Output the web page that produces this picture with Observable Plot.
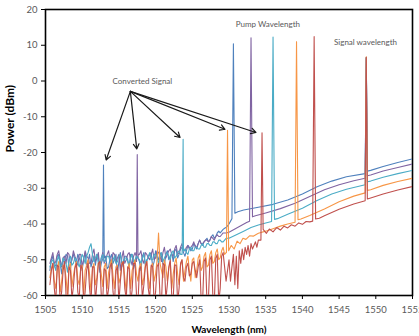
<!DOCTYPE html>
<html>
<head>
<meta charset="utf-8">
<script src="https://cdn.jsdelivr.net/npm/d3@7"></script>
<script src="https://cdn.jsdelivr.net/npm/@observablehq/plot@0.6"></script>
<style>
  html, body { margin: 0; padding: 0; background: #fff; }
</style>
</head>
<body>
<div id="chart"></div>
<script>
// Optical spectra of five wavelength-conversion runs, one per pump wavelength.
const pumpKeys = ["1530.6", "1533.0", "1536.0", "1539.2", "1541.6"];
const traceColors = ["#4F81BD", "#8064A2", "#4BACC6", "#F79646", "#C0504D"];

const xTicks = [1505, 1510, 1515, 1520, 1525, 1530, 1535, 1540, 1545, 1550, 1555];
const yTicks = [-60, -50, -40, -30, -20, -10, 0, 10, 20];

// OSA samples across the noisy short-wavelength band (nm)
const noiseNm = [
  1505.6, 1506.0, 1506.4, 1506.8, 1507.2, 1507.6, 1508.0, 1508.4, 1508.8, 1509.2,
  1509.6, 1510.0, 1510.4, 1510.8, 1511.2, 1511.6, 1512.0, 1512.4, 1512.8, 1513.2,
  1513.6, 1514.0, 1514.4, 1514.8, 1515.2, 1515.6, 1516.0, 1516.4, 1516.8, 1517.2,
  1517.6, 1518.0, 1518.4, 1518.8, 1519.2, 1519.6, 1520.0, 1520.4, 1520.8, 1521.2,
  1521.6, 1522.0, 1522.4, 1522.8, 1523.2, 1523.6, 1524.0, 1524.4, 1524.8, 1525.2,
  1525.6, 1526.0, 1526.4, 1526.8, 1527.2, 1527.6, 1528.0, 1528.4, 1528.8, 1529.2,
  1529.6
];
// interleaved samples between the ones above
const noiseNmMid = [
  1505.8, 1506.2, 1506.6, 1507.0, 1507.4, 1507.8, 1508.2, 1508.6, 1509.0, 1509.4,
  1509.8, 1510.2, 1510.6, 1511.0, 1511.4, 1511.8, 1512.2, 1512.6, 1513.0, 1513.4,
  1513.8, 1514.2, 1514.6, 1515.0, 1515.4, 1515.8, 1516.2, 1516.6, 1517.0, 1517.4,
  1517.8, 1518.2, 1518.6, 1519.0, 1519.4, 1519.8, 1520.2, 1520.6, 1521.0, 1521.4,
  1521.8, 1522.2, 1522.6, 1523.0, 1523.4, 1523.8, 1524.2, 1524.6, 1525.0, 1525.4,
  1525.8, 1526.2, 1526.6, 1527.0, 1527.4, 1527.8, 1528.2, 1528.6, 1529.0, 1529.4
];

// Noise-band power (dBm) for each trace
const noise1530 = [
  -53, -49, -51.5, -48.5, -54, -50, -49, -52.5, -48.5, -51,
  -49.5, -53, -48, -50.5, -52, -49, -48.5, -53.5, -50, -49,
  -52, -48.5, -50, -54, -48, -50.5, -49, -52, -48.5, -51,
  -49.5, -53, -48, -50, -48.5, -52, -47.5, -50, -49, -51.5,
  -47.5, -49, -50.5, -47, -48.5, -46.5, -49, -46, -47.5, -45.5,
  -47, -44.5, -46, -44.5, -45, -43.5, -44, -42.5, -42.5, -41.5,
  -41
];
const noise1530Mid = [
  -50, -52, -49, -51, -50.5, -48.5, -52, -49.5, -50, -48.5,
  -51, -49.5, -52, -48.5, -50.5, -51.5, -49, -51, -48.5, -52.5,
  -49.5, -51, -48.5, -50.5, -52, -49, -50, -48.5, -52.5, -49,
  -50.5, -49, -51.5, -49.5, -48, -50.5, -49, -48, -51, -48.5,
  -50, -48, -47.5, -49.5, -47, -48, -47.5, -46.5, -47, -46,
  -45.5, -45.5, -45, -44, -44.5, -43, -43.5, -42, -42, -41.2
];
const noise1533 = [
  -51, -48, -50.5, -47.5, -52, -49, -48, -51.5, -47.5, -50,
  -48.5, -52, -47.5, -49.5, -51, -47, -49.5, -52.5, -48, -50,
  -47.5, -51, -48.5, -49.5, -53, -47.5, -50, -48, -51.5, -48,
  -49.5, -47.5, -51, -48.5, -50, -47, -49.5, -48, -50.5, -46.5,
  -48.5, -47, -49, -46, -48, -45.5, -47.5, -46, -46.5, -45,
  -46.5, -44.5, -45.5, -44.5, -45, -43.5, -44.5, -43, -43.5, -42.5,
  -42.5
];
const noise1533Mid = [
  -49.5, -51, -48.5, -50, -49.5, -51, -48.5, -50, -49, -51.5,
  -48.5, -50, -49, -51, -48.5, -50.5, -48, -49.5, -51, -48.5,
  -50, -48, -50.5, -48.5, -49.5, -51, -48.5, -50, -49, -50.5,
  -48.5, -50, -48, -49.5, -48.5, -50, -47.5, -49, -48, -49.5,
  -47.5, -48.5, -47, -48.5, -46.5, -47.5, -46.5, -47, -46, -46.5,
  -45.5, -45.5, -45, -44.5, -44.5, -44, -43.5, -43.5, -43, -42.5
];
const noise1536 = [
  -52, -50, -53, -49, -51.5, -50.5, -53.5, -49, -51, -50,
  -52, -48.5, -51, -48, -45.5, -50.5, -48.5, -52, -48.5, -50,
  -49, -52.5, -49, -50.5, -48.5, -51, -49.5, -52, -48.5, -50,
  -49.5, -51, -48.5, -50.5, -48, -50, -48.5, -51, -48, -49.5,
  -48, -50, -47.5, -49, -47.5, -48.5, -47, -48.5, -46.5, -47.5,
  -46.5, -47, -45.5, -46.5, -45.5, -46, -45, -45.5, -44.5, -45,
  -44
];
const noise1536Mid = [
  -50.5, -51.5, -50, -52, -49.5, -51, -50, -51.5, -49.5, -51,
  -50, -49.5, -49, -46.5, -48.5, -49.5, -51, -49.5, -50.5, -49,
  -50.5, -50, -51, -49, -50.5, -49.5, -50.5, -49.5, -50.5, -49,
  -50, -49.5, -51, -49, -50, -48.5, -49.5, -49, -50.5, -48.5,
  -49, -48, -49.5, -48, -48.5, -47.5, -48, -47, -47.5, -46.5,
  -47, -46, -46.5, -45.5, -46, -45, -45.5, -44.5, -45, -44.5
];
const noise1539 = [
  -55, -51, -58, -50.5, -56, -52, -60, -51, -54.5, -50.5,
  -57, -51.5, -53, -50, -59, -51, -55, -50.5, -57.5, -51,
  -53.5, -50, -58, -51.5, -55, -50.5, -59, -51, -53, -50,
  -56, -51, -55, -50.5, -58, -51, -54, -42.5, -53, -50,
  -56, -50.5, -54, -49.5, -57, -50, -53, -49, -56, -49.5,
  -53, -48.5, -52, -48, -51.5, -47.5, -50.5, -47, -49.5, -46.5,
  -48
];
const noise1539Mid = [
  -52.5, -56, -53, -59, -51.5, -55, -52, -57.5, -52, -55.5,
  -52.5, -60, -51.5, -54, -52.5, -57, -51, -54, -52, -58,
  -51.5, -54.5, -52, -56.5, -51, -55, -52.5, -58, -51.5, -54,
  -52, -57, -51.5, -55, -52, -56, -50, -51, -55, -52,
  -52.5, -58, -51, -54, -51.5, -56, -50.5, -53, -50, -55,
  -49.5, -53, -49, -52, -48.5, -51, -48, -50, -47.5, -48.5
];
const noise1541 = [
  -57, -51, -62, -52, -59, -50.5, -62, -53, -57.5, -51,
  -61, -52.5, -59, -51, -62, -52, -56.5, -50.5, -61, -53,
  -58, -51, -62, -52, -56, -50.5, -61, -52.5, -58.5, -51,
  -62, -52, -57, -50.5, -61, -52, -59, -51, -62, -51.5,
  -57, -50, -61, -51.5, -58, -50, -56, -51, -54, -50.5,
  -55, -50, -62, -49.5, -61, -49, -62, -48.5, -58, -48,
  -56
];
const noise1541Mid = [
  -53, -58, -51.5, -62, -53, -60, -52, -61, -52.5, -59,
  -51.5, -62, -53, -58, -52, -62, -51, -60, -52.5, -61,
  -52, -59, -53, -62, -51.5, -58, -52, -62, -51, -60,
  -52.5, -61, -52, -58, -51.5, -62, -52, -60, -51, -61,
  -52, -60, -51.5, -62, -51, -55, -52, -54.5, -51, -53,
  -52, -61, -50.5, -62, -50, -60, -49.5, -62, -49, -52
];

// Converted-signal, pump and signal peaks plus the ASE floor beyond the noise band: [nm, dBm]
const trace1530 = [
  [1512.75, -50], [1512.9, -23.5], [1513.05, -49.5],
  [1530.0, -40], [1530.4, -38.5], [1530.6, 10.4], [1530.8, -37], [1531.2, -36.6],
  [1532, -36.1], [1534, -35.3], [1536, -34.5], [1538, -33.3], [1540, -31.6],
  [1542, -29.6], [1544, -28.0], [1546, -26.8], [1548.55, -25.9], [1548.7, 6.4],
  [1548.85, -25.2], [1549.3, -25.0], [1551, -23.9], [1553, -22.8], [1555, -21.8]
];
const trace1533 = [
  [1517.35, -49], [1517.5, -20.6], [1517.65, -48.5],
  [1530.0, -42.3], [1530.8, -41.4], [1531.6, -40.5], [1532.4, -39.6], [1532.8, -39.2],
  [1533.0, 12.1], [1533.2, -38], [1533.6, -37.7], [1535, -36.9], [1537, -35.7],
  [1539, -34.2], [1541, -32.3], [1543, -30.4], [1545, -29.0], [1547, -27.9],
  [1548.55, -27.2], [1548.7, 6.5], [1548.85, -26.5], [1549.3, -26.3], [1551, -25.2],
  [1553, -24.2], [1555, -23.2]
];
const trace1536 = [
  [1523.62, -48], [1523.75, -16.3], [1523.9, -47.5],
  [1530.0, -44], [1531, -43], [1532, -42], [1533, -41], [1534, -40.3], [1535, -39.7],
  [1535.8, -39.3], [1536.0, 12.3], [1536.2, -38.7], [1536.6, -38.5], [1538, -37.3],
  [1540, -35.6], [1542, -33.4], [1544, -31.6], [1546, -30.3], [1548.55, -29.0],
  [1548.7, 6.6], [1548.85, -28.2], [1549.3, -28.0], [1551, -26.9], [1553, -25.9],
  [1555, -25.0]
];
const trace1539 = [
  [1529.65, -48], [1529.8, -13.8], [1529.95, -47.5], [1530.3, -46], [1530.7, -47],
  [1531.1, -44.8], [1531.5, -45.5], [1531.9, -44], [1532.3, -44.3], [1532.8, -43.3],
  [1533.3, -43.4], [1534, -42.6], [1535, -42], [1536, -41.3], [1537, -40.6],
  [1538, -40], [1539.0, -39.5], [1539.2, 11.0], [1539.4, -38.8], [1539.8, -38.6],
  [1541, -37.6], [1543, -35.8], [1545, -33.8], [1547, -32.2], [1548.55, -31.3],
  [1548.7, 6.8], [1548.85, -30.6], [1549.3, -30.4], [1551, -29.2], [1553, -28.1],
  [1555, -27.2]
];
const trace1541 = [
  [1530.0, -50], [1530.2, -56], [1530.4, -52], [1530.6, -48.5], [1530.8, -57],
  [1531.0, -49], [1531.2, -58], [1531.4, -47.5], [1531.6, -51], [1531.8, -47],
  [1532.0, -50], [1532.2, -46.5], [1532.4, -48.5], [1532.6, -46], [1532.8, -49],
  [1533.0, -45.5], [1533.2, -47], [1533.6, -45], [1533.8, -46.5], [1534.0, -44.5],
  [1534.35, -44.5], [1534.5, -14.5], [1534.65, -41.5], [1535.1, -42.6], [1535.5, -41.4],
  [1536, -42.2], [1536.5, -41], [1537, -41.7], [1537.5, -40.6], [1538, -41.1],
  [1538.5, -40.2], [1539, -40.6], [1539.5, -39.7], [1540, -40.1], [1540.5, -39.3],
  [1541.0, -39.4], [1541.4, -39.2], [1541.6, 12.4], [1541.8, -38.6], [1542.3, -38.4],
  [1543, -37.7], [1545, -35.9], [1547, -34.4], [1548.55, -33.5], [1548.7, 6.6],
  [1548.85, -33], [1549.3, -32.7], [1551, -31.6], [1553, -30.5], [1555, -29.5]
];

// Annotations
const arrowFrom = [1516.56, -2.9];
const arrowTo = [[1513.26, -22.1], [1517.43, -19.0], [1523.33, -15.8], [1529.45, -13.5], [1533.67, -14.4]];
const notes = [
  {nm: 1518.2, dBm: 0.0, text: "Converted Signal"},
  {nm: 1535.3, dBm: 15.8, text: "Pump Wavelength"},
  {nm: 1548.6, dBm: 10.8, text: "Signal wavelength"}
];

const noiseSets = [noise1530, noise1533, noise1536, noise1539, noise1541];
const noiseMidSets = [noise1530Mid, noise1533Mid, noise1536Mid, noise1539Mid, noise1541Mid];
const traceSets = [trace1530, trace1533, trace1536, trace1539, trace1541];

const rows = [];
pumpKeys.forEach((key, k) => {
  const pts = noiseSets[k].map((v, i) => ({pump: key, nm: noiseNm[i], dBm: v}))
    .concat(noiseMidSets[k].map((v, i) => ({pump: key, nm: noiseNmMid[i], dBm: v})))
    .concat(traceSets[k].map(([nm, dBm]) => ({pump: key, nm, dBm})));
  pts.sort((a, b) => a.nm - b.nm);
  rows.push(...pts);
});

const chart = Plot.plot({
  width: 419,
  height: 336,
  marginLeft: 45,
  marginRight: 7,
  marginTop: 9,
  marginBottom: 41,
  style: {fontFamily: "Lato, 'Open Sans', sans-serif", fontSize: "9.5px", background: "#fff"},
  x: {domain: [1505, 1555]},
  y: {domain: [-60, 20]},
  color: {domain: pumpKeys, range: traceColors},
  marks: [
    Plot.frame({stroke: "#000", strokeWidth: 1.6}),
    Plot.line(rows, {x: "nm", y: "dBm", z: "pump", stroke: "pump", strokeWidth: 1.1, clip: true}),
    Plot.axisX(xTicks, {tickSize: 4, tickPadding: 7, tickFormat: d => String(d), stroke: "#000", fill: "#595959", label: null}),
    Plot.axisY(yTicks, {tickSize: 4, tickPadding: 4, tickFormat: d => String(d), stroke: "#000", fill: "#595959", label: null}),
    Plot.arrow(arrowTo, {x1: () => arrowFrom[0], y1: () => arrowFrom[1], x2: d => d[0], y2: d => d[1],
      stroke: "#1a1a1a", strokeWidth: 1.2, headLength: 7}),
    Plot.text(notes, {x: "nm", y: "dBm", text: "text", fill: "#595959", fontSize: 8}),
    Plot.text(["Wavelength (nm)"], {frameAnchor: "bottom", dy: 37, fontWeight: "bold", fontSize: 10, fill: "#000"}),
    Plot.text(["Power (dBm)"], {frameAnchor: "left", dx: -35, rotate: -90, fontWeight: "bold", fontSize: 12, fill: "#000"})
  ]
});

document.getElementById("chart").appendChild(chart);
</script>
</body>
</html>
